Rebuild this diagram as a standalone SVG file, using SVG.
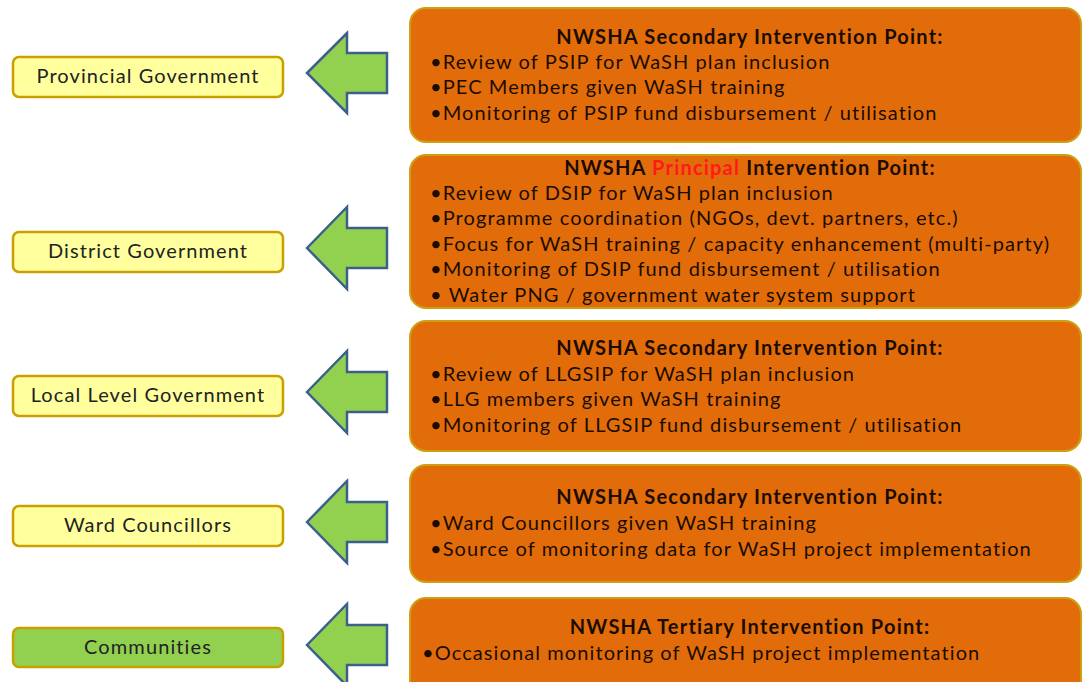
<svg xmlns="http://www.w3.org/2000/svg" width="1083" height="682" viewBox="0 0 1083 682">
<style>
.ob{fill:#E36C0A;stroke:#CDA012;stroke-width:2}
.yb{fill:#FFFF9E;stroke:#C9A000;stroke-width:2.5}
.gb{fill:#92D050;stroke:#C9A000;stroke-width:2.5}
.ar{fill:#92D050;stroke:#3C5F8C;stroke-width:2.5;stroke-linejoin:miter}
.lbl{font-family:Lato,"Open Sans",sans-serif;font-size:20px;letter-spacing:1.1px;fill:#222;text-anchor:middle}
.tt{font-family:Lato,"Open Sans",sans-serif;font-size:20px;letter-spacing:1.2px;font-weight:bold;fill:#1a0c00;text-anchor:middle}
.tx{font-family:Lato,"Open Sans",sans-serif;font-size:20px;letter-spacing:1.1px;fill:#1a0c00}
.red{fill:#FF1A1A}
</style>
<g id="connectors">
<path class="ar" d="M307,73 L347,33 L347,53 L387,53 L387,93 L347,93 L347,113 Z"/>
<path class="ar" d="M307,248 L347,207 L347,228 L387,228 L387,268 L347,268 L347,289 Z"/>
<path class="ar" d="M307,392 L347,351 L347,372 L387,372 L387,412 L347,412 L347,433 Z"/>
<path class="ar" d="M307,522 L347,481 L347,502 L387,502 L387,542 L347,542 L347,563 Z"/>
<path class="ar" d="M307,645 L347,604 L347,625 L387,625 L387,665 L347,665 L347,686 Z"/>
</g>
<g id="provincial"><rect class="yb" x="13" y="57" width="270" height="40" rx="6"/><text class="lbl" x="148" y="83">Provincial Government</text></g>
<g id="district"><rect class="yb" x="13" y="232" width="270" height="40" rx="6"/><text class="lbl" x="148" y="258">District  Government</text></g>
<g id="llg"><rect class="yb" x="13" y="376" width="270" height="40" rx="6"/><text class="lbl" x="148" y="402">Local Level Government</text></g>
<g id="ward"><rect class="yb" x="13" y="506" width="270" height="40" rx="6"/><text class="lbl" x="148" y="532">Ward Councillors</text></g>
<g id="communities"><rect class="gb" x="13" y="628" width="270" height="39" rx="6"/><text class="lbl" x="148" y="654">Communities</text></g>
<g id="box1"><rect class="ob" x="410" y="8" width="671" height="134" rx="16"/>
<text class="tt" x="750" y="44">NWSHA Secondary Intervention Point:</text>
<text class="tx" x="430" y="69">•Review of PSIP for WaSH plan inclusion</text>
<text class="tx" x="430" y="94">•PEC Members given WaSH training</text>
<text class="tx" x="430" y="120">•Monitoring of PSIP fund disbursement / utilisation</text></g>
<g id="box2"><rect class="ob" x="410" y="155" width="671" height="153" rx="16"/>
<text class="tt" x="750" y="175">NWSHA <tspan class="red">Principal</tspan> Intervention Point:</text>
<text class="tx" x="430" y="200">•Review of DSIP for WaSH plan inclusion</text>
<text class="tx" x="430" y="225">•Programme coordination (NGOs, devt. partners, etc.)</text>
<text class="tx" x="430" y="251">•Focus for WaSH training / capacity enhancement  (multi-party)</text>
<text class="tx" x="430" y="276">•Monitoring of DSIP fund disbursement / utilisation</text>
<text class="tx" x="430" y="302">• Water PNG / government  water system support</text></g>
<g id="box3"><rect class="ob" x="410" y="321" width="671" height="130" rx="16"/>
<text class="tt" x="750" y="355">NWSHA Secondary Intervention Point:</text>
<text class="tx" x="430" y="381">•Review of LLGSIP for WaSH plan inclusion</text>
<text class="tx" x="430" y="406">•LLG members given WaSH training</text>
<text class="tx" x="430" y="432">•Monitoring of LLGSIP fund disbursement / utilisation</text></g>
<g id="box4"><rect class="ob" x="410" y="465" width="671" height="117" rx="16"/>
<text class="tt" x="750" y="504">NWSHA Secondary Intervention Point:</text>
<text class="tx" x="430" y="530">•Ward Councillors given WaSH training</text>
<text class="tx" x="430" y="556">•Source of monitoring data for WaSH project implementation</text></g>
<g id="box5"><rect class="ob" x="410" y="598" width="671" height="110" rx="16"/>
<text class="tt" x="750" y="634">NWSHA Tertiary Intervention Point:</text>
<text class="tx" x="422" y="660">•Occasional monitoring of WaSH project implementation</text></g>
</svg>
